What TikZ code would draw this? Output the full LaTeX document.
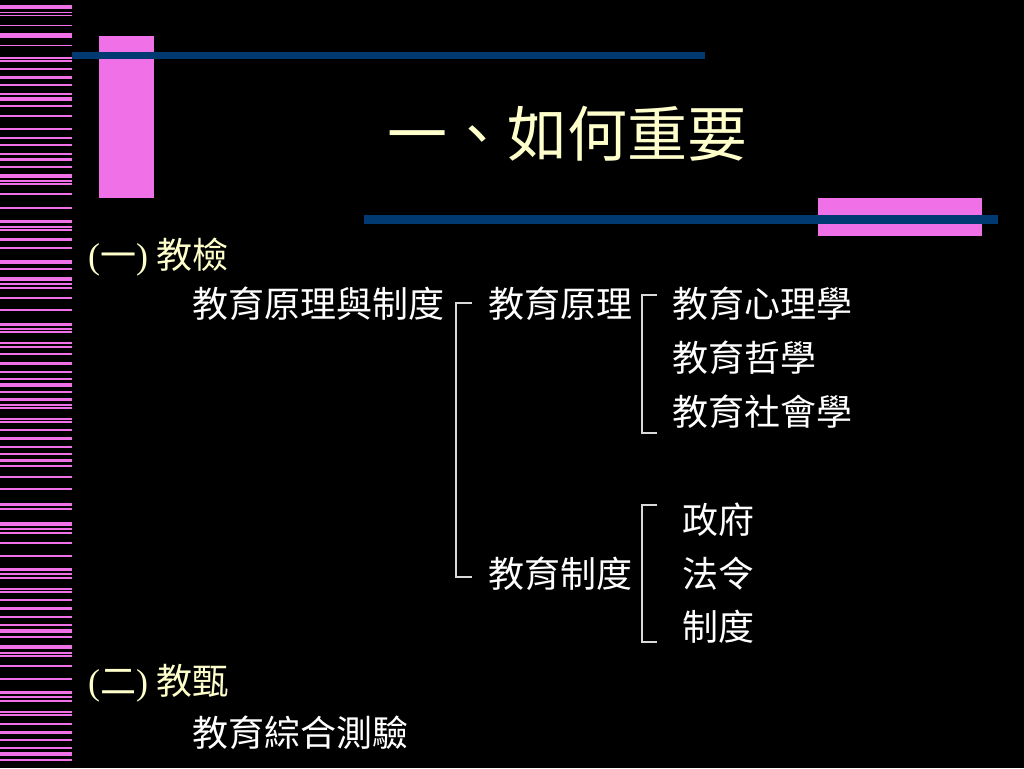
\documentclass[tikz,border=0pt]{standalone}
\usepackage{fontspec}
\setmainfont{Liberation Serif}
\newfontfamily\cjk{Noto Sans CJK TC}
\usetikzlibrary{positioning,calc}
\definecolor{stripe}{HTML}{F070E8}
\definecolor{bar}{HTML}{003A70}
\definecolor{heading}{HTML}{FFFFCC}

\begin{document}
\begin{tikzpicture}[
    x=1pt, y=-1pt,
    every node/.style = {inner sep=0pt, text height=30pt, text depth=2pt},
    item/.style = {anchor=west, text=white, font=\cjk\fontsize{36}{40}\selectfont},
    head/.style = {anchor=west, text=heading, font=\cjk\fontsize{36}{40}\selectfont},
    bracket/.style = {draw=white!85!black, line width=1.2pt},
]
    % background
    \fill[black] (0,0) rectangle (1024,768);
    \useasboundingbox (0,0) rectangle (1024,768);

    % stripes on the left
    \foreach \y/\h in {5/4, 12/1.5, 15/1.5, 25/1.5, 33/5, 45/1.5, 57/1.5, 60/1.5, 68/1.5, 76/3, 84/2, 93/1.5,
        97/3.5, 105/2, 115/1.5, 128/1.5, 137/2, 144/2, 153/1.5, 158/3, 166/2, 174/3.5, 180/1.5, 183/1.5,
        193/1.5, 207/1.5, 220/3, 226/1.5, 229/1.5, 238/3, 247/1.5, 260/3.5, 268/1.5, 277/3.5, 283/1.5,
        287/1.5, 297/1.5, 309/1.5, 323/2.5, 328/1.5, 331/2, 342/1.5, 346/1.5, 353/1.5, 362/2.5, 371/2,
        378/1.5, 383/4, 391/1.5, 398/2.5, 404/1.5, 407/2, 418/1.5, 421/1.5, 429/1.5, 437/2.5, 446/2,
        453/1.5, 459/3, 465/1.5, 476/1.5, 488/1.5, 503/2.5, 508/1.5, 522/3.5, 528/1.5, 532/1.5, 542/1.5,
        555/1.5, 568/2.5, 573/1.5, 577/2, 588/1.5, 591/1.5, 599/1.5, 607/2.5, 616/2, 624/1.5, 629/3.5,
        636/1.5, 645/4, 652/1.5, 655/1.5, 665/1.5, 678/1.5, 691/3, 696/1.5, 700/1.5, 711/1.5, 714/2,
        723/2, 731/2.5, 739/2, 747/1.5, 752/3.5, 759/1.5}
        \fill[stripe] (0,\y) rectangle (72,\y+\h);

    % blocks and bars
    \fill[stripe] (99,36) rectangle (154,198);
    \fill[stripe] (818,198) rectangle (982,236);
    \fill[bar] (72,52) rectangle (705,59);
    \fill[bar] (364,215) rectangle (998,224);

    % title
    \node[text=heading, text height=46pt, text depth=0pt, font=\cjk\fontsize{60}{64}\selectfont] (title) at (567,133) {一、如何重要};

    % (一) tree
    \node[head] (sec1) at (88,254) {{\rmfamily(}一{\rmfamily)} 教檢};
    \node[item] (yuanzhi) at (192,303) {教育原理與制度};
    \node[item] (yuanli) at (488,303) {教育原理};
    \node[item] (zhidu) at (488,573) {教育制度};
    \node[item] (xinli) at (672,303) {教育心理學};
    \node[item] (zhexue) at (672,357) {教育哲學};
    \node[item] (shehui) at (672,411) {教育社會學};
    \node[item] (zhengfu) at (682,519) {政府};
    \node[item] (faling) at (682,573) {法令};
    \node[item] (zhidu2) at (682,626) {制度};

    % brackets
    \draw[bracket] ([xshift=-16pt]yuanli.west) -| ([xshift=-32pt,yshift=-4pt]zhidu.west) -- ([xshift=-16pt,yshift=-4pt]zhidu.west);
    \draw[bracket] ([xshift=-15pt,yshift=8pt]xinli.west) -| ([xshift=-30pt,yshift=-22pt]shehui.west) -- ++(15,0);
    \draw[bracket] ([xshift=-25pt,yshift=14pt]zhengfu.west) -| ([xshift=-40pt,yshift=-16pt]zhidu2.west) -- ++(15,0);

    % (二)
    \node[head] (sec2) at (88,680) {{\rmfamily(}二{\rmfamily)} 教甄};
    \node[item] (zonghe) at (192,732) {教育綜合測驗};

\end{tikzpicture}
\end{document}
